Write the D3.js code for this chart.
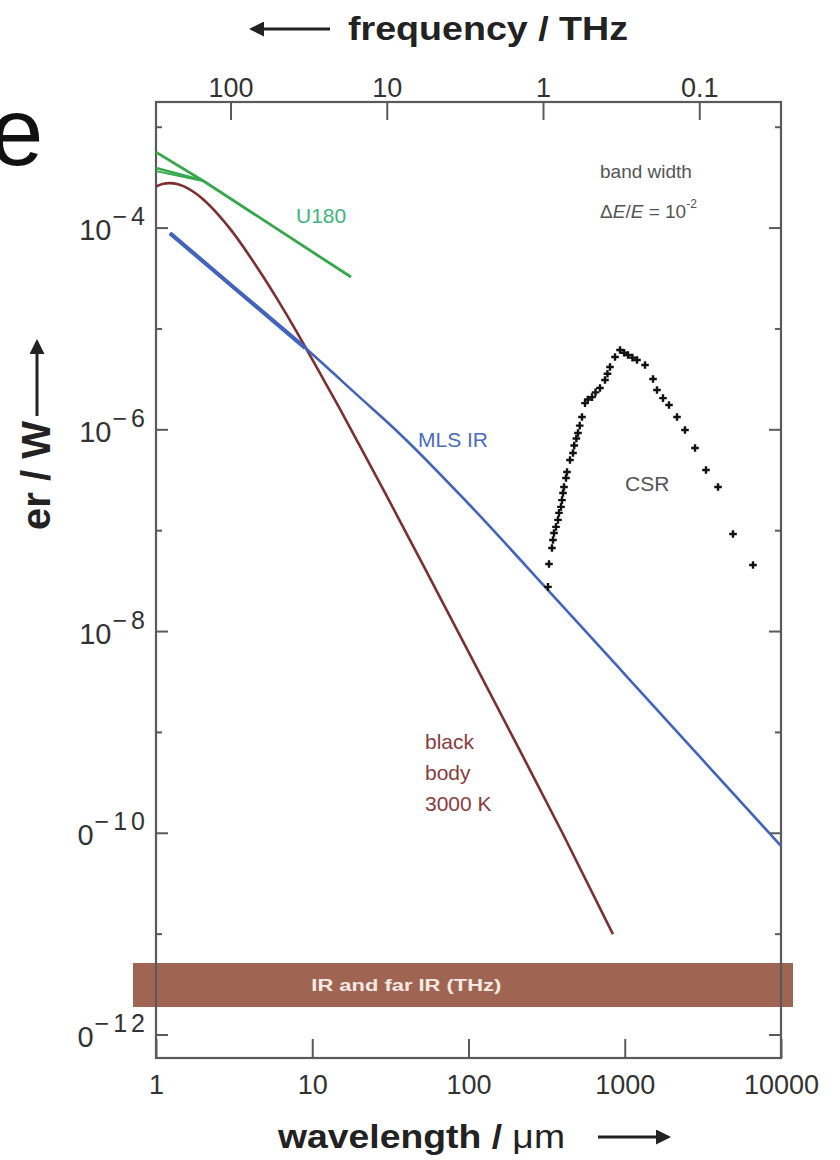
<!DOCTYPE html>
<html><head><meta charset="utf-8">
<script src="https://cdn.jsdelivr.net/npm/d3@7"></script>
<style>
body{margin:0;background:#fff}
svg{display:block}
text{font-family:"Liberation Sans",Arial,Helvetica,sans-serif}
</style>
</head><body>
<svg id="chart" width="840" height="1160"></svg>
<script>
// ---------------- data ----------------
const wavelengthTicks = [1, 10, 100, 1000, 10000];          // µm
const frequencyTicks  = [100, 10, 1, 0.1];                  // THz
const frequencyTickLabels = ["100", "10", "1", "0.1"];
const powerMajorExp = [-4, -6, -8, -10, -12];
const powerMinorExp = [-3, -5, -7, -9, -11];

// U180 (green)
const u180Lambda = [1, 2.06, 17.7];
const u180Power  = [5.66e-4, 2.86e-4, 3.27e-5];
const u180ShortLambda = [1, 1.97];
const u180ShortPowerA = [3.94e-4, 2.99e-4];
const u180ShortPowerB = [3.67e-4, 2.95e-4];

// black body 3000 K (brown)
const bbLambda = [1, 1.1, 1.22, 1.4, 1.6, 1.8, 2, 2.5, 3, 4, 5, 6, 8, 10, 15, 20, 30, 50, 100, 200, 400, 840];
const bbPower  = [2.58e-4, 2.73e-4, 2.79e-4, 2.70e-4, 2.48e-4, 2.20e-4, 1.93e-4, 1.36e-4, 9.7e-5, 5.2e-5,
                  3.07e-5, 1.95e-5, 9.2e-6, 5.0e-6, 1.62e-6, 7.1e-7, 2.2e-7, 4.9e-8, 6.3e-9, 8.0e-10, 1.0e-10, 1.0e-11];

// MLS IR (blue)
const mlsLambda = [1.23, 3.16, 9, 20, 36.4, 100, 368, 1000, 3162, 10000];
const mlsPower  = [8.9e-5, 2.56e-5, 6.5e-6, 2.12e-6, 9.1e-7, 1.85e-7, 2.06e-8, 3.77e-9, 5.3e-10, 7.5e-11];

// CSR (black crosses)
const csrLambda = [322.7, 327.5, 342.2, 347.3, 352.5, 363.1, 373.9, 379.5, 390.8, 396.6, 402.5, 408.5, 420.7, 427,
                   446.2, 466.6, 475, 490, 502, 515, 532.5, 556.6, 580, 617.2, 650, 694.2, 747.2, 775, 804.5, 866.3,
                   932.4, 990, 1049, 1120, 1198, 1348, 1517, 1608, 1757, 1919, 2160, 2430, 2816, 3311, 3954, 4930, 6620];
const csrPower  = [2.77e-8, 4.68e-8, 6.74e-8, 8.09e-8, 9.49e-8, 1.09e-7, 1.28e-7, 1.50e-7, 1.72e-7, 2.01e-7, 2.36e-7, 2.71e-7, 3.33e-7, 3.82e-7,
                   5.02e-7, 5.89e-7, 7.0e-7, 8.2e-7, 9.3e-7, 1.10e-6, 1.34e-6, 1.84e-6, 2.0e-6, 2.11e-6, 2.35e-6, 2.60e-6, 3.12e-6, 3.6e-6, 4.19e-6, 5.27e-6,
                   6.18e-6, 5.8e-6, 5.51e-6, 5.2e-6, 4.92e-6, 4.39e-6, 3.19e-6, 2.48e-6, 2.06e-6, 1.76e-6, 1.34e-6, 9.95e-7, 6.61e-7, 4.0e-7, 2.71e-7, 9.27e-8, 4.57e-8];

// ---------------- layout ----------------
const svg = d3.select("#chart");
const L = 156, R = 781, T = 102, B = 1058;
const C_LIGHT = 299.79; // THz·µm

const x = d3.scaleLog().domain([1, 10000]).range([L, R]);
const y = d3.scaleLog().domain([Math.pow(10, -12.228), Math.pow(10, -2.75)]).range([B, T]);
const xf = d3.scaleLog().domain([C_LIGHT / 1, C_LIGHT / 10000]).range([L, R]);

const axisColor = "#5a5a5a";
const zip = (a, b) => a.map((v, i) => [v, b[i]]);
const line = d3.line().x(d => x(d[0])).y(d => y(d[1])).curve(d3.curveMonotoneX);
const straight = d3.line().x(d => x(d[0])).y(d => y(d[1]));

// band "IR and far IR (THz)"
svg.append("rect").attr("x", L - 23).attr("y", 963).attr("width", R - L + 35).attr("height", 44)
  .attr("fill", "#a06452");
svg.append("text").attr("x", x(40)).attr("y", 991).attr("text-anchor", "middle")
  .attr("font-size", 16).attr("font-weight", "bold").attr("fill", "#f6e9e4")
  .attr("textLength", 190).attr("lengthAdjust", "spacingAndGlyphs")
  .text("IR and far IR (THz)");

// frame
svg.append("rect").attr("x", L).attr("y", T).attr("width", R - L).attr("height", B - T)
  .attr("fill", "none").attr("stroke", axisColor).attr("stroke-width", 2.2);

// bottom axis
const gb = svg.append("g").attr("transform", `translate(0,${B})`)
  .call(d3.axisBottom(x).tickValues(wavelengthTicks).tickFormat(d3.format("d")).tickSize(-19).tickPadding(17));
gb.select(".domain").remove();
gb.selectAll(".tick line").attr("stroke", axisColor).attr("stroke-width", 2);
gb.selectAll(".tick text").attr("font-size", 27).attr("fill", "#333").attr("font-family", '"Liberation Sans",Arial,sans-serif');

// top axis (frequency)
const gt = svg.append("g").attr("transform", `translate(0,${T})`)
  .call(d3.axisTop(xf).tickValues(frequencyTicks).tickFormat((d, i) => frequencyTickLabels[i]).tickSize(-18).tickPadding(5));
gt.select(".domain").remove();
gt.selectAll(".tick line").attr("stroke", axisColor).attr("stroke-width", 2);
gt.selectAll(".tick text").attr("font-size", 27).attr("fill", "#333").attr("font-family", '"Liberation Sans",Arial,sans-serif');

// left/right y ticks
const majorVals = powerMajorExp.map(e => Math.pow(10, e));
const minorVals = powerMinorExp.map(e => Math.pow(10, e));
function yTicks(g, side) {
  const s = side === "left" ? 1 : -1;
  const x0 = side === "left" ? L : R;
  g.selectAll("line.maj").data(majorVals).join("line").attr("class", "maj")
    .attr("x1", x0).attr("x2", x0 + s * 12).attr("y1", d => y(d)).attr("y2", d => y(d))
    .attr("stroke", axisColor).attr("stroke-width", 2);
  g.selectAll("line.min").data(minorVals).join("line").attr("class", "min")
    .attr("x1", x0).attr("x2", x0 + s * 6).attr("y1", d => y(d)).attr("y2", d => y(d))
    .attr("stroke", axisColor).attr("stroke-width", 2);
}
yTicks(svg.append("g"), "left");
yTicks(svg.append("g"), "right");

// y tick labels 10^n
const ylab = svg.append("g");
powerMajorExp.forEach(e => {
  const yy = y(Math.pow(10, e));
  const sup = ylab.append("text").attr("x", 149).attr("y", yy - 3).attr("text-anchor", "end")
    .attr("font-size", 25).attr("letter-spacing", 4).attr("fill", "#333").text("\u2212" + Math.abs(e));
  const w = sup.node().getComputedTextLength();
  ylab.append("text").attr("x", 149 - w - 1).attr("y", yy + 12).attr("text-anchor", "end")
    .attr("font-size", 29).attr("fill", "#333").text("10");
});

// curves
const gCurves = svg.append("g");
gCurves.append("path").datum(zip(bbLambda, bbPower)).attr("d", line)
  .attr("fill", "none").attr("stroke", "#7e2f30").attr("stroke-width", 2.6);
const mlsData = zip(mlsLambda, mlsPower);
gCurves.append("path").datum(mlsData).attr("d", line)
  .attr("fill", "none").attr("stroke", "#4264bd").attr("stroke-width", 2.6);
gCurves.append("path").datum(mlsData.filter(d => d[0] <= 9)).attr("d", line)
  .attr("fill", "none").attr("stroke", "#4264bd").attr("stroke-width", 4.2);
gCurves.append("path").datum(zip(u180Lambda, u180Power)).attr("d", straight)
  .attr("fill", "none").attr("stroke", "#35a84c").attr("stroke-width", 2.8);
gCurves.append("path").datum(zip(u180ShortLambda, u180ShortPowerA)).attr("d", straight)
  .attr("fill", "none").attr("stroke", "#35a84c").attr("stroke-width", 2.4);
gCurves.append("path").datum(zip(u180ShortLambda, u180ShortPowerB)).attr("d", straight)
  .attr("fill", "none").attr("stroke", "#35a84c").attr("stroke-width", 2);

// CSR crosses
const cross = 3.8;
svg.append("g").selectAll("path").data(zip(csrLambda, csrPower)).join("path")
  .attr("d", d => {
    const cx = x(d[0]), cy = y(d[1]);
    return `M${cx - cross},${cy}H${cx + cross}M${cx},${cy - cross}V${cy + cross}`;
  })
  .attr("stroke", "#111").attr("stroke-width", 2.4).attr("fill", "none");

// annotations
svg.append("text").attr("x", 296).attr("y", 223).attr("font-size", 21).attr("fill", "#3db679").text("U180");
svg.append("text").attr("x", 600).attr("y", 178).attr("font-size", 19).attr("fill", "#555").text("band width");
const de = svg.append("text").attr("x", 600).attr("y", 218).attr("font-size", 19).attr("fill", "#555");
de.append("tspan").text("\u0394");
de.append("tspan").attr("font-style", "italic").text("E");
de.append("tspan").text("/");
de.append("tspan").attr("font-style", "italic").text("E");
de.append("tspan").text(" = 10");
de.append("tspan").attr("font-size", 12).attr("dy", -10).text("-2");
svg.append("text").attr("x", 418).attr("y", 447).attr("font-size", 21).attr("fill", "#4c6cc2").text("MLS IR");
svg.append("text").attr("x", 625).attr("y", 491).attr("font-size", 21).attr("fill", "#555").text("CSR");
["black", "body", "3000 K"].forEach((t, i) => {
  svg.append("text").attr("x", 425).attr("y", 749 + i * 31).attr("font-size", 21).attr("fill", "#8c3c3c").text(t);
});

// axis titles with arrows
svg.append("defs").append("marker").attr("id", "ah").attr("viewBox", "0 0 10 10")
  .attr("refX", 8).attr("refY", 5).attr("markerWidth", 5).attr("markerHeight", 5)
  .attr("markerUnits", "strokeWidth").attr("orient", "auto")
  .append("path").attr("d", "M0,0L10,5L0,10Z").attr("fill", "#222");

svg.append("text").attr("x", 348).attr("y", 40).attr("font-size", 34).attr("font-weight", "bold")
  .attr("fill", "#222").attr("textLength", 280).attr("lengthAdjust", "spacingAndGlyphs").text("frequency / THz");
svg.append("line").attr("x1", 330).attr("y1", 29).attr("x2", 252).attr("y2", 29)
  .attr("stroke", "#222").attr("stroke-width", 3).attr("marker-end", "url(#ah)");

const wl = svg.append("text").attr("x", 278).attr("y", 1148).attr("font-size", 34).attr("font-weight", "bold")
  .attr("fill", "#222").attr("textLength", 287).attr("lengthAdjust", "spacingAndGlyphs");
wl.append("tspan").text("wavelength / ");
wl.append("tspan").attr("font-weight", "normal").text("\u03bcm");
svg.append("line").attr("x1", 598).attr("y1", 1137).attr("x2", 668).attr("y2", 1137)
  .attr("stroke", "#222").attr("stroke-width", 3).attr("marker-end", "url(#ah)");

// y title (cut by the slide edge in the original)
svg.append("text").attr("transform", "translate(50,421) rotate(-90)").attr("text-anchor", "end")
  .attr("font-size", 40).attr("font-weight", "bold").attr("fill", "#222").text("power / W");
svg.append("line").attr("x1", 37).attr("y1", 416).attr("x2", 37).attr("y2", 342)
  .attr("stroke", "#222").attr("stroke-width", 3).attr("marker-end", "url(#ah)");

// white cover at left like the reference crop
svg.append("rect").attr("x", 0).attr("y", 529).attr("width", 62).attr("height", 631).attr("fill", "#fff");
svg.append("rect").attr("x", 0).attr("y", 700).attr("width", 77).attr("height", 460).attr("fill", "#fff");

// big partial slide title letter
svg.append("text").attr("x", -10).attr("y", 165).attr("font-size", 96).attr("fill", "#111").text("e");
</script>
</body></html>
